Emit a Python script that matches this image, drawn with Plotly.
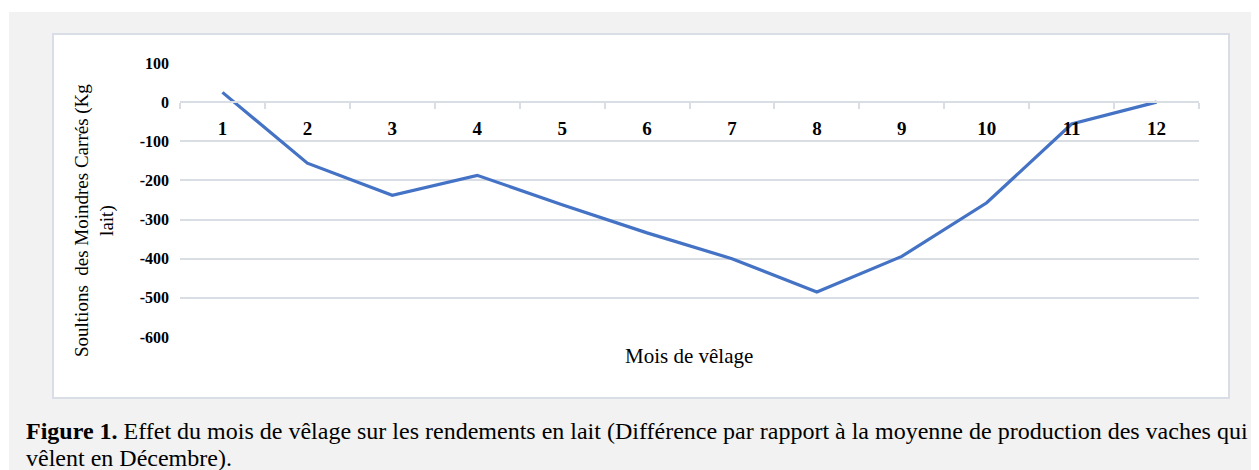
import plotly.graph_objects as go

# Data
months = ["1", "2", "3", "4", "5", "6", "7", "8", "9", "10", "11", "12"]
lsm_values = [25, -156, -238, -187, -262, -334, -400, -485, -394, -257, -56, 0]
y_tick_vals = [100, 0, -100, -200, -300, -400, -500, -600]
y_tick_text = ["100", "0", "-100", "-200", "-300", "-400", "-500", "-600"]

# page has an 8px body margin; work in page pixel coordinates
OFF = 8
W, H = 1259 - OFF, 470 - OFF
PLOT_X0, PLOT_X1, PLOT_Y0, PLOT_Y1 = 180, 1199, 63, 337  # page pixels
L = PLOT_X0 - OFF
R = W - (PLOT_X1 - OFF)
T = PLOT_Y0 - OFF
B = H - (PLOT_Y1 - OFF)
PW, PH = W - L - R, H - T - B

def px(x):
    return (x - PLOT_X0) / PW

def py(y):
    return (PLOT_Y1 - y) / PH

SERIF = "Liberation Serif, Times New Roman, serif"
GRID = "#d9dde4"

fig = go.Figure()
fig.add_trace(go.Scatter(
    x=months, y=lsm_values, mode="lines",
    line=dict(color="#4472c4", width=3.2),
    hoverinfo="x+y", showlegend=False,
))

ymin, ymax = -600, 100
fig.update_layout(
    width=W, height=H,
    margin=dict(l=L, r=R, t=T, b=B, pad=0),
    paper_bgcolor="white",
    plot_bgcolor="rgba(0,0,0,0)",
    font=dict(family=SERIF, color="#000000"),
    xaxis=dict(
        type="category",
        anchor="free",
        position=(0 - ymin) / (ymax - ymin),
        showline=True, linecolor=GRID, linewidth=1.5,
        ticks="outside", tickson="boundaries", ticklen=6, tickcolor=GRID, tickwidth=1.5,
        showgrid=False,
        tickfont=dict(family=SERIF, size=19, color="#000000", weight="bold"),
        ticklabelstandoff=9,
        range=[-0.5, 11.5],
    ),
    yaxis=dict(
        range=[ymin, ymax],
        tickvals=y_tick_vals, ticktext=y_tick_text,
        showgrid=True, gridcolor=GRID, gridwidth=1.5,
        zeroline=False, showline=False, ticks="",
        tickfont=dict(family=SERIF, size=16, color="#000000", weight="bold"),
        ticklabelstandoff=10,
    ),
    shapes=[
        dict(type="rect", xref="paper", yref="paper",
             x0=px(9), x1=px(1265), y0=py(12), y1=py(480),
             fillcolor="#f2f2f2", line=dict(width=0), layer="below"),
        dict(type="rect", xref="paper", yref="paper",
             x0=px(53), x1=px(1229), y0=py(34), y1=py(398),
             fillcolor="white", line=dict(color="#d9dee6", width=2), layer="below"),
    ],
    annotations=[
        dict(text="Mois de vêlage", xref="paper", yref="paper",
             x=px(689), y=py(356), xanchor="center", yanchor="middle",
             showarrow=False, font=dict(family=SERIF, size=21, color="#000000")),
        dict(text="Soultions  des Moindres Carrés (Kg<br>lait)", xref="paper", yref="paper",
             x=px(94), y=py(221), xanchor="center", yanchor="middle", textangle=-90,
             showarrow=False, font=dict(family=SERIF, size=19, color="#000000")),
        dict(text="<b>Figure 1.</b> Effet du mois de vêlage sur les rendements en lait (Différence par rapport à la moyenne de production des vaches qui",
             xref="paper", yref="paper", x=px(24), y=py(431), xanchor="left", yanchor="middle",
             align="left", showarrow=False,
             font=dict(family=SERIF, size=24, color="#000000")),
        dict(text="vêlent en Décembre).",
             xref="paper", yref="paper", x=px(24), y=py(458), xanchor="left", yanchor="middle",
             align="left", showarrow=False,
             font=dict(family=SERIF, size=24, color="#000000")),
    ],
)

fig.write_html("out.html")
